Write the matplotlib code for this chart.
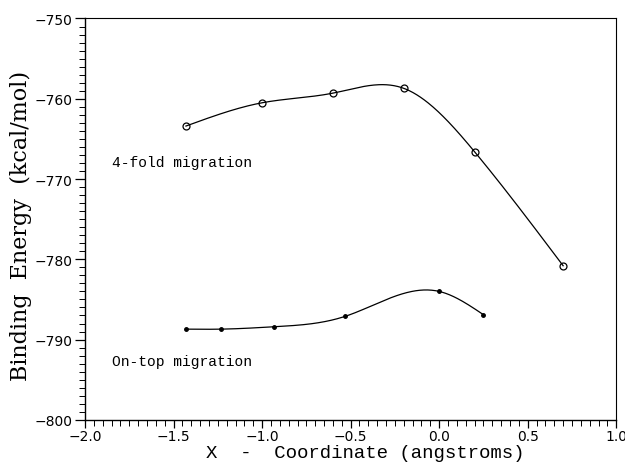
import numpy as np
import matplotlib
matplotlib.use("Agg")
import matplotlib.pyplot as plt
from matplotlib.ticker import MultipleLocator

# values
fourfold_x = [-1.43, -1.0, -0.6, -0.2, 0.2, 0.7]
fourfold_e = [-763.4, -760.5, -759.3, -758.7, -766.6, -780.8]
ontop_x = [-1.43, -1.23, -0.93, -0.53, 0.0, 0.25]
ontop_e = [-788.7, -788.7, -788.4, -787.1, -784.0, -786.9]

xticks = [-2.0, -1.5, -1.0, -0.5, 0.0, 0.5, 1.0]
yticks = [-800, -790, -780, -770, -760, -750]


def natural_spline(x, y, n=300):
    # smooth curve through the points, like the original plotting package
    x = np.asarray(x, float)
    y = np.asarray(y, float)
    k = len(x)
    h = np.diff(x)
    A = np.zeros((k, k))
    b = np.zeros(k)
    A[0, 0] = A[-1, -1] = 1.0
    for i in range(1, k - 1):
        A[i, i - 1] = h[i - 1]
        A[i, i] = 2 * (h[i - 1] + h[i])
        A[i, i + 1] = h[i]
        b[i] = 6 * ((y[i + 1] - y[i]) / h[i] - (y[i] - y[i - 1]) / h[i - 1])
    m = np.linalg.solve(A, b)
    xs = np.linspace(x[0], x[-1], n)
    idx = np.clip(np.searchsorted(x, xs) - 1, 0, k - 2)
    x0, x1 = x[idx], x[idx + 1]
    hh = x1 - x0
    t0, t1 = x1 - xs, xs - x0
    ys = (m[idx] * t0 ** 3 / (6 * hh) + m[idx + 1] * t1 ** 3 / (6 * hh)
          + (y[idx] / hh - m[idx] * hh / 6) * t0
          + (y[idx + 1] / hh - m[idx + 1] * hh / 6) * t1)
    return xs, ys


fig = plt.figure(figsize=(6.25, 4.64), dpi=100, facecolor="white")
ax = fig.add_axes([0.136, 0.093, 0.850, 0.865])

xs, ys = natural_spline(fourfold_x, fourfold_e)
ax.plot(xs, ys, color="black", linewidth=0.9)
ax.plot(fourfold_x, fourfold_e, linestyle="none", marker="o", markersize=5,
        markerfacecolor="none", markeredgecolor="black", markeredgewidth=0.9)

xs, ys = natural_spline(ontop_x, ontop_e)
ax.plot(xs, ys, color="black", linewidth=0.9)
ax.plot(ontop_x, ontop_e, linestyle="none", marker="o", markersize=2.5,
        color="black")

mono = "Liberation Mono"
ax.text(-1.85, -767.9, "4-fold migration", family=mono, fontsize=10.5,
        ha="left", va="center")
ax.text(-1.85, -792.7, "On-top migration", family=mono, fontsize=10.5,
        ha="left", va="center")

ax.set_xlim(-2.0, 1.0)
ax.set_ylim(-800, -750)
ax.set_xticks(xticks)
ax.set_yticks(yticks)
ax.set_xticklabels([f"{v:.1f}".replace("-", "\u2212") for v in xticks])
ax.set_yticklabels([f"{v}".replace("-", "\u2212") for v in yticks])
ax.xaxis.set_minor_locator(MultipleLocator(0.05))
ax.yaxis.set_minor_locator(MultipleLocator(1))
ax.tick_params(which="major", direction="out", length=7, width=0.9,
               labelsize=10, pad=2)
ax.tick_params(axis="x", which="major", length=6, pad=0.5)
ax.tick_params(which="minor", direction="out", length=4, width=0.7)
ax.tick_params(top=False, right=False)
for lab in ax.get_xticklabels() + ax.get_yticklabels():
    lab.set_family("DejaVu Sans")

for s in ["left", "bottom"]:
    ax.spines[s].set_linewidth(1.0)
for s in ["top", "right"]:
    ax.spines[s].set_linewidth(0.8)

fig.text(0.584, 0.013, "X  -  Coordinate (angstroms)", family=mono,
         fontsize=13.7, ha="center", va="baseline")
ax.set_ylabel("Binding  Energy  (kcal/mol)", family="DejaVu Serif",
              fontsize=16)
ax.yaxis.set_label_coords(-0.1, 0.485)

fig.savefig("out.png", dpi=100, facecolor="white")
